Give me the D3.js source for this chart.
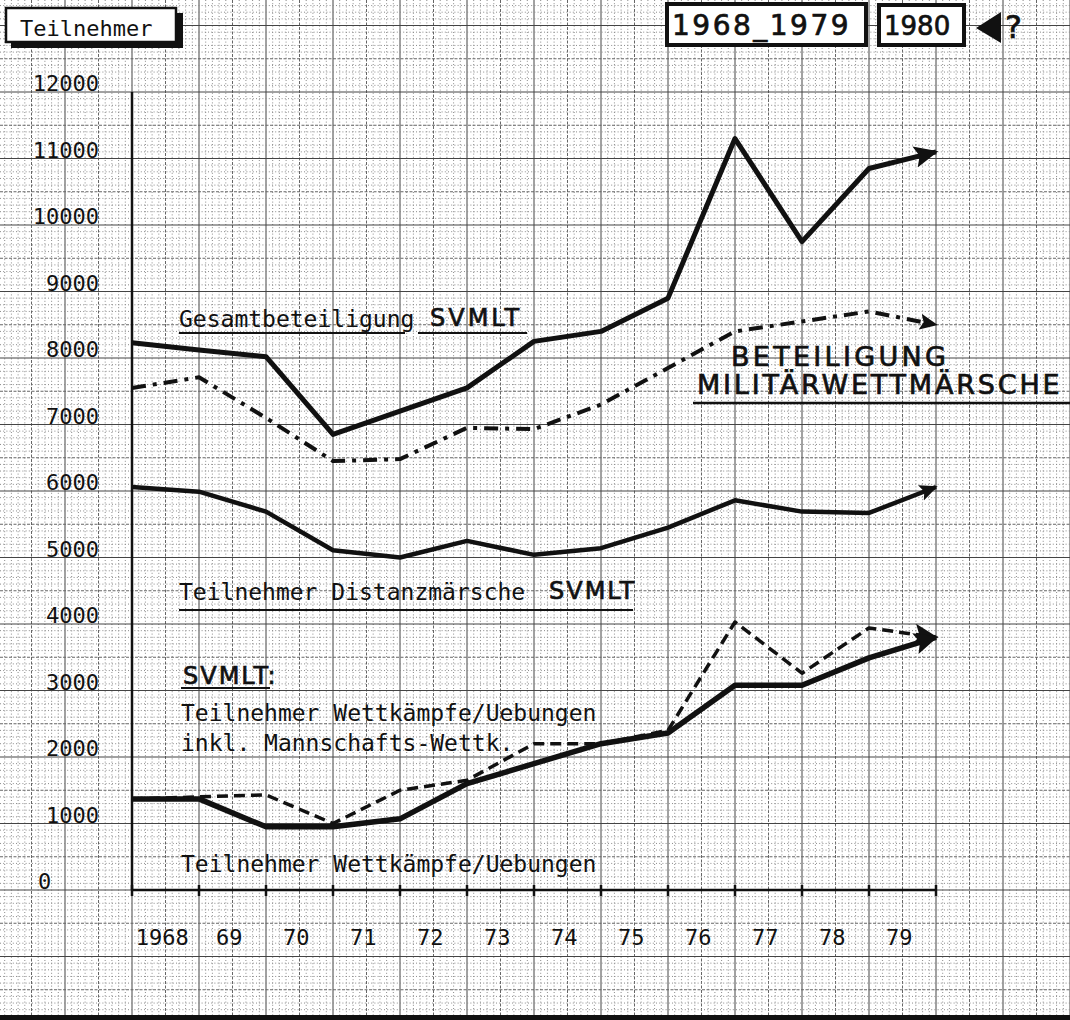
<!DOCTYPE html>
<html>
<head>
<meta charset="utf-8">
<script src="https://cdn.jsdelivr.net/npm/d3@7"></script>
<style>
  body { margin: 0; background: #fff; }
  text { font-family: "DejaVu Sans Mono", monospace; fill: #111; }
  .hand { font-family: "DejaVu Sans", sans-serif; fill: #111; stroke: #111; stroke-width: 0.7; }
</style>
</head>
<body>
<script>
const years = [1968, 1969, 1970, 1971, 1972, 1973, 1974, 1975, 1976, 1977, 1978, 1979, 1980];
const yearLabels = ["1968", "69", "70", "71", "72", "73", "74", "75", "76", "77", "78", "79"];
const yTicks = [0, 1000, 2000, 3000, 4000, 5000, 6000, 7000, 8000, 9000, 10000, 11000, 12000];

// Teilnehmer pro Jahr (1980 = Prognose, Pfeil)
const gesamt = [8230, 8120, 8020, 6850, 7200, 7550, 8250, 8400, 8900, 11300, 9750, 10850, 11100];
const militaer = [7550, 7710, 7100, 6450, 6480, 6950, 6930, 7300, 7850, 8400, 8550, 8700, 8500];
const distanz = [6060, 5990, 5690, 5110, 5000, 5250, 5040, 5140, 5450, 5860, 5690, 5670, 6060];
const wettkInkl = [1370, 1400, 1430, 1000, 1500, 1650, 2200, 2200, 2400, 4030, 3260, 3940, 3800];
const wettk = [1370, 1370, 950, 950, 1070, 1600, 1900, 2200, 2360, 3080, 3080, 3490, 3800];

const m = { width: 1070, height: 1020 };

let svg = d3.select("body")
  .append("svg")
  .attr("width", m.width)
  .attr("height", m.height);

let x = d3.scaleLinear().domain([1968, 1980]).range([132, 936]);
let y = d3.scaleLinear().domain([0, 12000]).range([890, 92]);

// Millimeterpapier
let grid = svg.append("g");
let xs = d3.range(19660, 19822).map(k => k / 10);
let ysv = d3.range(-20, 135).map(k => k * 100);

grid.selectAll(".vf")
  .data(xs)
  .enter()
  .append("line")
  .attr("x1", d => x(d)).attr("x2", d => x(d))
  .attr("y1", 0).attr("y2", m.height)
  .attr("stroke", (d, i) => i % 10 == 0 ? "#444" : i % 5 == 0 ? "#666" : "#8c8c8c")
  .attr("stroke-width", (d, i) => i % 10 == 0 ? 1 : 1)
  .attr("stroke-dasharray", (d, i) => i % 10 == 0 ? null : i % 5 == 0 ? "3 1.5" : "1 2.2");

grid.selectAll(".hf")
  .data(ysv)
  .enter()
  .append("line")
  .attr("y1", d => y(d)).attr("y2", d => y(d))
  .attr("x1", 0).attr("x2", m.width)
  .attr("stroke", d => d % 1000 == 0 ? "#444" : d % 500 == 0 ? "#666" : "#8c8c8c")
  .attr("stroke-width", 1)
  .attr("stroke-dasharray", d => d % 1000 == 0 ? null : d % 500 == 0 ? "3 1.5" : "1 2.2");

svg.append("rect")
  .attr("x", 0).attr("y", 1015)
  .attr("width", m.width).attr("height", 5)
  .attr("fill", "#111");

// Pfeilspitzen
let defs = svg.append("defs");
function arrow(id, size) {
  defs.append("marker")
    .attr("id", id)
    .attr("viewBox", "0 -5 10 10")
    .attr("refX", 9)
    .attr("refY", 0)
    .attr("markerUnits", "userSpaceOnUse")
    .attr("markerWidth", size)
    .attr("markerHeight", size)
    .attr("orient", "auto")
    .append("path")
    .attr("d", "M0,-4.5L10,0L0,4.5L2,0Z")
    .attr("fill", "#111");
}
arrow("big", 24);
arrow("small", 18);

// Achsen
let axes = svg.append("g").attr("stroke", "#111");
axes.append("line")
  .attr("x1", x(1968)).attr("x2", x(1968))
  .attr("y1", y(12000)).attr("y2", y(0))
  .attr("stroke-width", 2.5);
axes.append("line")
  .attr("x1", x(1968)).attr("x2", x(1980))
  .attr("y1", y(0)).attr("y2", y(0))
  .attr("stroke-width", 2.5);
axes.selectAll(".tick")
  .data(years)
  .enter()
  .append("line")
  .attr("x1", d => x(d)).attr("x2", d => x(d))
  .attr("y1", y(0) - 5).attr("y2", y(0) + 6)
  .attr("stroke-width", 2.5);

svg.selectAll(".ylab")
  .data(yTicks)
  .enter()
  .append("text")
  .attr("x", d => d == 0 ? 38 : 99)
  .attr("y", d => y(d) - 1)
  .attr("text-anchor", d => d == 0 ? "start" : "end")
  .attr("font-size", 22)
  .text(d => d);

svg.selectAll(".xlab")
  .data(yearLabels)
  .enter()
  .append("text")
  .attr("x", (d, i) => x(years[i] + 0.45))
  .attr("y", 945)
  .attr("text-anchor", "middle")
  .attr("font-size", 22)
  .text(d => d);

// Linien
let line = d3.line()
  .x((d, i) => x(years[i]))
  .y(d => y(d));

function drawLine(data, width, dash, marker) {
  svg.append("path")
    .datum(data)
    .attr("d", line)
    .attr("fill", "none")
    .attr("stroke", "#111")
    .attr("stroke-width", width)
    .attr("stroke-linejoin", "round")
    .attr("stroke-dasharray", dash)
    .attr("marker-end", "url(#" + marker + ")");
}

drawLine(gesamt, 5, null, "big");
drawLine(militaer, 4, "14 7 4 7", "small");
drawLine(distanz, 4.5, null, "small");
drawLine(wettkInkl, 3.5, "11 6", "big");
drawLine(wettk, 5.5, null, "big");

// Beschriftungen
function label(t, px, py, size, cls) {
  return svg.append("text")
    .attr("x", px).attr("y", py)
    .attr("font-size", size)
    .attr("class", cls || null)
    .text(t);
}
function underline(x1, x2, py, w) {
  svg.append("line")
    .attr("x1", x1).attr("x2", x2)
    .attr("y1", py).attr("y2", py)
    .attr("stroke", "#111")
    .attr("stroke-width", w || 2.2);
}

label("Gesamtbeteiligung", 179, 327, 23);
label("SVMLT", 430, 326, 24, "hand").attr("letter-spacing", 3);
underline(179, 405, 333);
underline(418, 527, 333);

label("BETEILIGUNG", 731, 366, 27, "hand").attr("letter-spacing", 3.3);
label("MILITÄRWETTMÄRSCHE", 697, 394, 27, "hand").attr("letter-spacing", 2.8);
underline(693, 1070, 403, 2.5);

label("Teilnehmer Distanzmärsche", 179, 600, 23);
label("SVMLT", 549, 599, 24, "hand").attr("letter-spacing", 2);
underline(179, 633, 610);

label("SVMLT:", 183, 684, 24, "hand").attr("letter-spacing", 2);
underline(181, 270, 688);
label("Teilnehmer Wettkämpfe/Uebungen", 181, 721, 23);
label("inkl. Mannschafts-Wettk.", 181, 751, 23);
label("Teilnehmer Wettkämpfe/Uebungen", 181, 872, 23);

// Kopf
let head = svg.append("g");
head.append("rect").attr("x", 11).attr("y", 13).attr("width", 172).attr("height", 35).attr("fill", "#111");
head.append("rect").attr("x", 6).attr("y", 8).attr("width", 170).attr("height", 34)
  .attr("fill", "#fff").attr("stroke", "#111").attr("stroke-width", 2.5);
label("Teilnehmer", 20, 36, 22);

head.append("rect").attr("x", 667).attr("y", 4).attr("width", 199).attr("height", 41)
  .attr("fill", "#fff").attr("stroke", "#111").attr("stroke-width", 4);
label("1968_1979", 672, 35, 28, "hand").attr("letter-spacing", 2.5);
head.append("rect").attr("x", 879).attr("y", 5).attr("width", 85).attr("height", 40)
  .attr("fill", "#fff").attr("stroke", "#111").attr("stroke-width", 4);
label("1980", 884, 35, 26, "hand");
head.append("path")
  .attr("d", "M976,28L1001,12L1001,43Z")
  .attr("fill", "#111");
label("?", 1005, 38, 32, "hand");
</script>
</body>
</html>
